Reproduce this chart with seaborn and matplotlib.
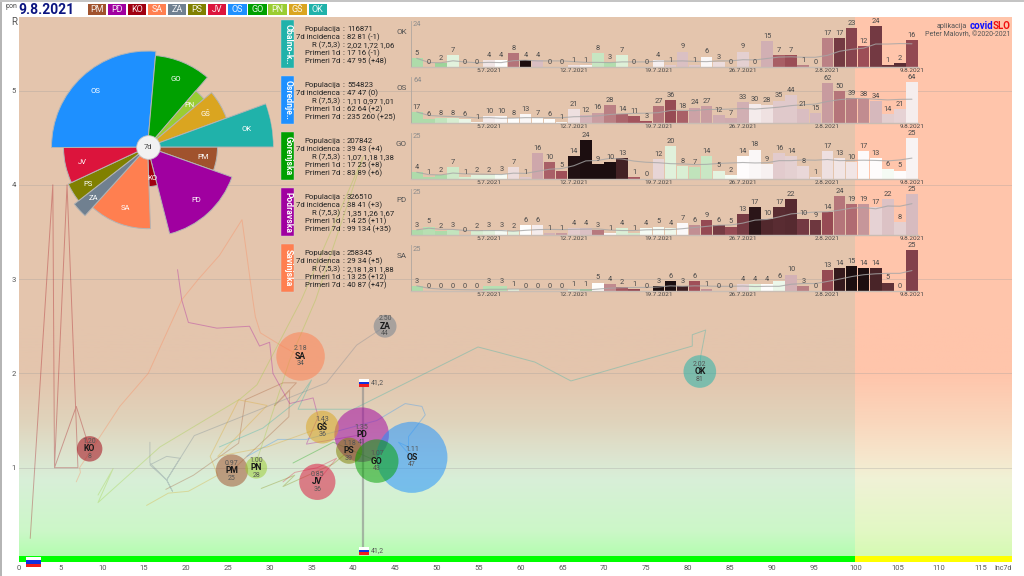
import numpy as np
import pandas as pd
import matplotlib
matplotlib.use("Agg")
import matplotlib.pyplot as plt
import seaborn as sns
from matplotlib.colors import LinearSegmentedColormap
from matplotlib.patches import Rectangle

W, H = 1024, 576

# statistical regions, in the order of the legend strip and the rose chart
CODES = ["PM", "PD", "KO", "SA", "ZA", "PS", "JV", "OS", "GO", "PN", "GŠ", "OK"]
COLORS = ["#a0522d", "#a000a0", "#a00010", "#ff7f50", "#708090", "#808000",
          "#dc143c", "#1e90ff", "#00a000", "#9acd32", "#daa520", "#20b2aa"]
POPULATION = [114000, 326510, 71000, 258345, 57000, 75000,
              144000, 554823, 207842, 52000, 118000, 116871]
INC_NOW = [25.5, 41, 8.5, 33.7, 43.8, 39.5, 35.7, 47, 42.8, 28.4, 36.3, 81.4]
INC_LABEL = [25, 41, 8, 34, 44, 39, 36, 47, 43, 28, 36, 81]
R_NOW = [0.97, 1.35, 1.20, 2.18, 2.50, 1.18, 0.85, 1.11, 1.07, 1.00, 1.43, 2.02]
R_LABEL = ["0.97", "1.35", "1.20", "2.18", "2.50", "1.18", "0.85", "1.11", "1.07", "1.00", "1.43", "2.02"]

# trails in the (incidence, R) plane
PM_X = [17.6, 20.9, 26.3, 27.1, 31.6, 33.2, 30.6, 32.4, 32.3, 27.3, 25.5]
PM_Y = [0.77, 0.92, 1.26, 1.72, 1.90, 1.90, 1.66, 1.82, 1.54, 1.12, 0.97]
PD_X = [19.0, 19.5, 20.3, 23.7, 27.6, 28.8, 30.0, 30.4, 32.4, 35.2, 35.8, 34.4, 41.0]
PD_Y = [3.10, 2.78, 2.54, 2.48, 2.50, 2.29, 2.33, 2.00, 1.68, 1.74, 1.54, 1.25, 1.35]
KO_X = [1.4, 4.1, 4.3, 5.8, 7.1, 4.3, 6.9, 8.5]
KO_Y = [0.25, 4.0, 1.0, 4.0, 1.0, 1.0, 1.65, 1.20]
SA_X = [6.9, 7.4, 7.3, 12.1, 15.5, 19.5, 21.5, 24.0, 26.7, 28.0, 28.3, 28.9, 31.3, 33.7]
SA_Y = [0.85, 0.95, 1.0, 1.65, 2.0, 2.78, 3.0, 3.25, 3.63, 2.78, 2.6, 2.43, 2.3, 2.18]
ZA_X = [15.7, 15.7, 17.7, 18.4, 17.7, 19.3, 17.7, 15.7, 17.7, 21.0, 36.8, 40.4, 43.8]
ZA_Y = [1.27, 1.05, 0.87, 0.75, 0.87, 1.10, 1.12, 1.03, 0.87, 1.34, 1.90, 2.30, 2.50]
PS_X = [29.0, 33.0, 31.6, 37.6, 39.5]
PS_Y = [0.78, 0.92, 0.80, 1.04, 1.18]
JV_X = [31.6, 33.0, 35.7, 38.0, 35.7]
JV_Y = [0.85, 0.95, 1.00, 1.10, 0.85]
OS_X = [27.3, 31.0, 34.4, 42.8, 46.2, 48.2, 48.6, 46.6, 46.6, 45.4, 47.0]
OS_Y = [1.12, 1.30, 1.30, 1.50, 1.68, 1.65, 1.56, 1.33, 1.22, 1.27, 1.11]
GO_X = [32.8, 37.6, 42.8]
GO_Y = [1.05, 1.27, 1.07]
PN_X = [9.5, 11.3, 9.5, 16.9, 26.5, 28.5, 33.8, 41.2, 35.5, 32.4, 28.5, 28.4]
PN_Y = [0.71, 0.99, 0.63, 1.22, 1.73, 1.88, 2.78, 4.30, 2.78, 2.14, 1.08, 1.00]
GS_X = [15.3, 17.9, 20.3, 23.8, 22.9, 26.3, 29.7, 23.8, 29.7, 36.3]
GS_Y = [0.60, 0.73, 0.75, 0.92, 1.12, 1.72, 1.66, 1.12, 1.22, 1.43]
OK_X = [24.0, 29.2, 33.2, 35.0, 33.4, 40.0, 54.9, 57.5, 61.7, 66.0, 80.5, 80.5, 82.1, 81.5, 81.4]
OK_Y = [1.22, 1.42, 1.70, 1.93, 1.62, 1.62, 2.28, 2.22, 2.12, 1.92, 2.29, 2.41, 2.46, 2.18, 2.02]
TRAILS = [(PM_X, PM_Y), (PD_X, PD_Y), (KO_X, KO_Y), (SA_X, SA_Y), (ZA_X, ZA_Y), (PS_X, PS_Y),
          (JV_X, JV_Y), (OS_X, OS_Y), (GO_X, GO_Y), (PN_X, PN_Y), (GS_X, GS_Y), (OK_X, OK_Y)]

SLO_INC = 41.2
SLO_R = 1.90

# daily cases in the five detail panels (29.6.2021 - 9.8.2021)
OK_DAILY = [5, 0, 2, 7, 0, 0, 4, 4, 8, 4, 4, 0, 0, 1, 1, 8, 3, 7, 0, 0, 4,
            1, 9, 1, 6, 3, 0, 9, 0, 15, 7, 7, 1, 0, 17, 17, 23, 12, 24, 1, 2, 16]
OS_DAILY = [17, 6, 8, 8, 6, 1, 10, 10, 8, 13, 7, 6, 1, 21, 12, 16, 28, 14, 11, 3, 27,
            36, 18, 24, 27, 12, 7, 33, 30, 28, 35, 44, 21, 15, 62, 50, 39, 38, 34, 14, 21, 64]
GO_DAILY = [4, 1, 2, 7, 1, 2, 2, 3, 7, 1, 16, 10, 5, 14, 24, 9, 10, 13, 1, 0, 12,
            20, 8, 7, 14, 5, 2, 14, 18, 9, 16, 14, 8, 1, 17, 13, 10, 17, 13, 6, 5, 25]
PD_DAILY = [3, 5, 2, 3, 0, 2, 3, 3, 2, 6, 6, 1, 1, 4, 4, 3, 1, 4, 1, 4, 5,
            4, 7, 6, 9, 6, 5, 13, 17, 10, 17, 22, 10, 9, 14, 24, 19, 19, 17, 22, 8, 25]
SA_DAILY = [3, 0, 0, 0, 0, 0, 3, 3, 1, 0, 0, 0, 0, 1, 1, 5, 4, 2, 1, 0, 3,
            6, 3, 6, 1, 0, 0, 4, 4, 4, 6, 10, 3, 0, 13, 14, 15, 14, 14, 5, 0, 25]
# R of the first 13 days, their previous week is off the chart
OK_EARLY = [0.6, 0.6, 0.5, 0.85, 0.85, 0.9, 1.15, 1.0, 1.7, 3.5, 1.35, 1.3, 1.2]
OS_EARLY = [0.6, 0.6, 0.7, 0.8, 0.9, 1.0, 1.1, 1.05, 1.0, 1.05, 1.0, 1.0, 1.0]
GO_EARLY = [0.6, 0.6, 0.6, 0.75, 0.8, 0.85, 0.85, 0.95, 1.2, 1.3, 1.45, 1.8, 1.9]
PD_EARLY = [0.6, 0.65, 0.6, 0.7, 0.8, 0.8, 0.85, 0.95, 0.85, 1.0, 1.1, 1.4, 1.5]
SA_EARLY = [0.6, 0.8, 0.8, 0.8, 0.8, 0.8, 0.65, 0.65, 0.85, 0.9, 0.9, 0.9, 0.9]

PANEL_CODES = ["OK", "OS", "GO", "PD", "SA"]
PANEL_NAMES = ["Obalno-k..", "Osrednje..", "Gorenjska", "Podravska", "Savinjska"]
PANEL_DAILY = [OK_DAILY, OS_DAILY, GO_DAILY, PD_DAILY, SA_DAILY]
PANEL_EARLY = [OK_EARLY, OS_EARLY, GO_EARLY, PD_EARLY, SA_EARLY]
ROW_LABELS = ["Populacija", "7d incidenca", "R (7,5,3)", "Primeri 1d", "Primeri 7d"]
OK_ROWS = ["116871", "82 81 (-1)", "2,02 1,72 1,06", "17 16 (-1)", "47 95 (+48)"]
OS_ROWS = ["554823", "47 47 (0)", "1,11 0,97 1,01", "62 64 (+2)", "235 260 (+25)"]
GO_ROWS = ["207842", "39 43 (+4)", "1,07 1,18 1,38", "17 25 (+8)", "83 89 (+6)"]
PD_ROWS = ["326510", "38 41 (+3)", "1,35 1,26 1,67", "14 25 (+11)", "99 134 (+35)"]
SA_ROWS = ["258345", "29 34 (+5)", "2,18 1,81 1,88", "13 25 (+12)", "40 87 (+47)"]
PANEL_ROWS = [OK_ROWS, OS_ROWS, GO_ROWS, PD_ROWS, SA_ROWS]

DAYS = [d.strftime("%-d.%-m.%Y") for d in pd.date_range("2021-06-29", "2021-08-09")]

sns.set_theme(style="white")
plt.rcParams["font.family"] = ["Roboto", "DejaVu Sans"]

fig = plt.figure(figsize=(W / 100, H / 100), dpi=100, facecolor="white")


def ftext(x, y, s, **kw):
    kw.setdefault("va", "center")
    return fig.text(x / W, 1 - y / H, s, **kw)


def frect(x0, y0, x1, y1, **kw):
    r = Rectangle((x0 / W, 1 - y1 / H), (x1 - x0) / W, (y1 - y0) / H, transform=fig.transFigure, **kw)
    fig.add_artist(r)
    return r


def flag(x0, y0, w, h):
    for i, c in enumerate(["white", "#1030e0", "#f01c1c"]):
        frect(x0, y0 + i * h / 3, x0 + w, y0 + (i + 1) * h / 3, fc=c, ec="none", zorder=6)


# ---- main chart ----
ax = fig.add_axes([18.5 / W, 1 - 562 / H, (1012 - 18.5) / W, (562 - 17) / H])
x_max = (1012 - 18.5) / 8.37
y_max = (562 - 17) / 94.3

left_cm = LinearSegmentedColormap.from_list("left", [
    (0.0, "#aeffaa"), (0.13, "#ccf7c8"), (0.35, "#d8efd8"), (0.45, "#dde4cf"),
    (0.60, "#e0d3bb"), (0.80, "#e4c5ad"), (1.0, "#e4c5ad")])
right_cm = LinearSegmentedColormap.from_list("right", [
    (0.0, "#d2fcae"), (0.13, "#e2f8c4"), (0.35, "#f0f2d6"), (0.45, "#f6e6cc"),
    (0.60, "#fad6bc"), (0.80, "#ffc5ab"), (1.0, "#ffc5ab")])
ramp = np.linspace(0, 1, 256).reshape(-1, 1)
ax.imshow(ramp, cmap=left_cm, origin="lower", aspect="auto", extent=(0, 100, 0, 2.5), zorder=0)
ax.imshow(ramp, cmap=right_cm, origin="lower", aspect="auto", extent=(100, x_max, 0, 2.5), zorder=0)
ax.axhspan(2.5, y_max, xmin=0, xmax=100 / x_max, color="#e4c5ad", lw=0, zorder=0)
ax.axhspan(2.5, y_max, xmin=100 / x_max, xmax=1, color="#ffc5ab", lw=0, zorder=0)
ax.axhspan(0, 0.066, xmin=0, xmax=100 / x_max, color="#00ff00", lw=0, zorder=1)
ax.axhspan(0, 0.066, xmin=100 / x_max, xmax=1, color="#ffff00", lw=0, zorder=1)
for r_line in [1, 2, 3, 4, 5]:
    ax.axhline(r_line, color="#9a9a9a", lw=0.7, alpha=0.3, zorder=1)

for (tx, ty), col in zip(TRAILS, COLORS):
    sns.lineplot(x=tx, y=ty, sort=False, estimator=None, color=col, lw=0.7, alpha=0.32, ax=ax, zorder=2)

ax.plot([SLO_INC, SLO_INC], [0.12, SLO_R], color="#8a8a8a", lw=1.6, alpha=0.6, zorder=2)

bubbles = pd.DataFrame({"inc": INC_NOW, "r": R_NOW, "code": CODES, "pop": POPULATION})
sns.scatterplot(data=bubbles, x="inc", y="r", hue="code", palette=dict(zip(CODES, COLORS)),
                size="pop", sizes=(1, 2620), size_norm=(0, 554823), alpha=0.52,
                linewidth=0, legend=False, ax=ax, zorder=3)
for inc, r_val, code, rl, il in zip(INC_NOW, R_NOW, CODES, R_LABEL, INC_LABEL):
    ax.annotate(rl, (inc, r_val), xytext=(0, 7.5 * 0.72), textcoords="offset points", ha="center", va="center",
                fontsize=5, color="#555555", zorder=5)
    ax.annotate(code, (inc, r_val), ha="center", va="center", fontsize=6.2, fontweight="bold",
                color="#1a1a1a", zorder=5)
    ax.annotate(str(il), (inc, r_val), xytext=(0, -7.5 * 0.72), textcoords="offset points", ha="center", va="center",
                fontsize=5, color="#555555", zorder=5)

ax.set_xlim(0, x_max)
ax.set_ylim(0, y_max)
ax.set_xlabel("")
ax.set_ylabel("")
ax.set_xticks(np.arange(0, 116, 5))
ax.set_yticks([1, 2, 3, 4, 5])
ax.tick_params(axis="x", labelsize=5.5, colors="#555555", length=1.5, width=0.5, pad=1.5, direction="inout")
ax.tick_params(axis="y", labelsize=5.5, colors="#555555", length=0, pad=2)
sns.despine(ax=ax, left=True, top=True, right=True, bottom=True)

ftext(14, 22, "R", fontsize=7, color="#555555", ha="center")
ftext(1012, 568, "Inc7d", fontsize=5, color="#555555", ha="right")
flag(26, 557, 15, 10)
flag(359, 379, 10, 8)
flag(359, 547, 10, 8)
ftext(371, 382.5, "41,2", fontsize=5, color="#555555")
ftext(371, 550.5, "41,2", fontsize=5, color="#555555")

# ---- rose chart of incidence, angle by population ----
pie = fig.add_axes([(147.5 - 126) / W, 1 - (147 + 126) / H, 252 / W, 252 / H], projection="polar")
pie.set_theta_zero_location("E")
pie.set_theta_direction(-1)
pie.patch.set_alpha(0)
widths = 2 * np.pi * np.array(POPULATION) / sum(POPULATION)
starts = np.concatenate([[0], np.cumsum(widths)[:-1]])
radii = np.sqrt(INC_LABEL)
pie.bar(starts + widths / 2, radii, width=widths, color=COLORS, edgecolor="#b4b4b4", linewidth=0.7)
for th, rad, code in zip(starts + widths / 2, radii, CODES):
    pie.text(th, rad * 0.8, code, color="white", fontsize=5.5, ha="center", va="center")
pie.set_ylim(0, 9)
pie.axis("off")
pie.scatter([0], [0], s=290, color="#f2f2f2", edgecolor="#c4c4c4", linewidth=0.6, zorder=5, clip_on=False)
pie.text(0, 0, "7d", fontsize=5.5, color="#444444", ha="center", va="center", zorder=6)

# ---- header strip ----
frect(0, 0, 1.5, 576, fc="#b5b5b5", ec="none", zorder=0)
frect(0, 0, 1024, 1.5, fc="#c4c4c4", ec="none", zorder=0)
ftext(11.5, 7, "pon", fontsize=5, color="#444444", ha="center")
ftext(18, 9.5, "9.8.2021", fontsize=10, fontweight="bold", color="#0a1480")
for i, (code, col) in enumerate(zip(CODES, COLORS)):
    x0 = 87.5 + i * 20.1
    frect(x0, 4, x0 + 18.3, 15, fc=col, ec="none", zorder=2)
    ftext(x0 + 9.1, 9.7, code, fontsize=6.5, color="white", alpha=0.9, ha="center", zorder=3)

ftext(967, 26, "aplikacija", fontsize=5.2, color="#555555", ha="right")
ftext(969.5, 26, "covid", fontsize=7, fontweight="bold", color="#1010ff")
ftext(1010.5, 26, "SLO", fontsize=7, fontweight="bold", color="#f01010", ha="right")
ftext(1010.5, 35, "Peter Malovrh, ©2020-2021", fontsize=5, color="#555555", ha="right")

# ---- detail panels ----
# R stops of the bar colours, white sits at R = 1
RATE_STOPS = [0.4, 0.55, 0.8, 1.0, 1.2, 1.35, 1.6, 1.9, 2.2, 2.6, 3.0, 3.2]
RATE_COLORS = ["#8fcf8f", "#a4d6a0", "#d8eed2", "#ffffff", "#ecdcdc", "#d8bcc0",
               "#bd8488", "#a04f58", "#80404a", "#4a2428", "#1c0e10", "#1c0e10"]
rate_cm = LinearSegmentedColormap.from_list(
    "rate", list(zip(np.interp(RATE_STOPS, [0.4, 3.2], [0, 1]), RATE_COLORS)))

for k, (code, name) in enumerate(zip(PANEL_CODES, PANEL_NAMES)):
    base = 66.7 + 56 * k
    col = COLORS[CODES.index(code)]
    frect(281, 20 + 56 * k, 294, 68 + 56 * k, fc=col, ec="#d8d8d8", lw=0.3, zorder=2)
    ftext(287.7, 44 + 56 * k, name, fontsize=6.2, fontweight="bold", color="white", rotation=-90,
          ha="center", zorder=3)
    for j, (lab, val) in enumerate(zip(ROW_LABELS, PANEL_ROWS[k])):
        y = 29.3 + 8 * j + 56 * k
        ftext(340, y, lab, fontsize=5.6, color="#222222", ha="right")
        ftext(343, y, ":", fontsize=5.6, color="#222222", ha="center")
        ftext(347, y, val, fontsize=5.6, color="#222222")

    daily = pd.Series(PANEL_DAILY[k], dtype=float)
    rate = daily.rolling(7).sum() / daily.shift(7).rolling(7).sum()
    rate.iloc[:13] = PANEL_EARLY[k]
    rate = rate.replace([np.inf, -np.inf], 3.2).fillna(1.0).clip(0.4, 3.2)
    palette = dict(zip(DAYS, [rate_cm(float(v)) for v in (rate - 0.4) / 2.8]))

    top = daily.max()
    pax = fig.add_axes([410.7 / W, 1 - base / H, (918 - 410.7) / W, 46 / H])
    pax.patch.set_alpha(0)
    sns.barplot(x=DAYS, y=PANEL_DAILY[k], hue=DAYS, palette=palette, saturation=1, width=0.96,
                dodge=False, legend=False, linewidth=0, ax=pax)
    for cont in pax.containers:
        pax.bar_label(cont, fmt="%d", fontsize=5.3, color="#4a4a4a", padding=0.8)
    sns.lineplot(x=np.arange(len(DAYS)), y=daily.rolling(7, min_periods=1).mean().to_numpy(),
                 color="#a6a6a6", lw=0.8, alpha=0.8, ax=pax)
    pax.set_xlim(-0.5, 41.5)
    pax.set_ylim(0, top * 46 / 40.5)
    pax.set_xlabel("")
    pax.set_ylabel("")
    pax.set_xticks(np.arange(6, 42, 7))
    pax.set_xticklabels([DAYS[t] for t in range(6, 42, 7)])
    pax.set_yticks([])
    pax.tick_params(axis="x", labelsize=4.6, colors="#444444", length=1, width=0.5, pad=0)
    sns.despine(ax=pax, top=True, right=True)
    pax.spines["left"].set_color("#b0a79f")
    pax.spines["left"].set_linewidth(0.6)
    pax.spines["bottom"].set_color("#c9bdb4")
    pax.spines["bottom"].set_linewidth(1.0)
    ftext(413, base - 41.7, str(int(top)), fontsize=5.3, color="#8c8c8c")
    ftext(407, base - 34.7, code, fontsize=5.8, color="#555555", ha="right")

fig.savefig("out.png", dpi=100)
